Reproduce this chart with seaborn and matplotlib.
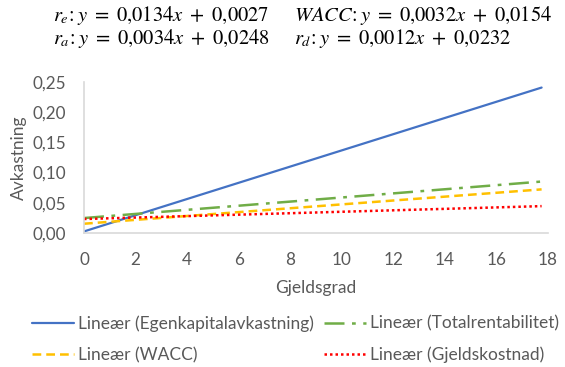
import matplotlib
matplotlib.use("Agg")
import matplotlib.pyplot as plt
from matplotlib.ticker import FuncFormatter, MultipleLocator
import seaborn as sns
import pandas as pd

# Linear trend lines: y = slope * x + intercept over the debt ratio range
series = ["Lineær (Egenkapitalavkastning)", "Lineær (Totalrentabilitet)",
          "Lineær (WACC)", "Lineær (Gjeldskostnad)"]
slopes = [0.0134, 0.0034, 0.0032, 0.0012]
intercepts = [0.0027, 0.0248, 0.0154, 0.0232]
x_span = [0.0, 17.75]

colors = ["#4472C4", "#70AD47", "#FFC000", "#FF0000"]
styles = ["-", (0, (8, 3, 1.5, 3)), (0, (3.5, 2)), (0, (1, 1.2))]
widths = [1.6, 1.8, 1.8, 1.8]

equations = [r"$r_e\!:y\ =\ 0{,}0134x\ +\ 0{,}0027$",
             r"$WACC\!:y\ =\ 0{,}0032x\ +\ 0{,}0154$",
             r"$r_a\!:y\ =\ 0{,}0034x\ +\ 0{,}0248$",
             r"$r_d\!:y\ =\ 0{,}0012x\ +\ 0{,}0232$"]

rows = []
for name, a, b in zip(series, slopes, intercepts):
    for x in x_span:
        rows.append({"Gjeldsgrad": x, "Avkastning": a * x + b, "serie": name})
df = pd.DataFrame(rows)

sns.set_theme(style="white")
plt.rcParams["font.family"] = ["Lato", "DejaVu Sans"]
plt.rcParams["mathtext.fontset"] = "stix"

fig = plt.figure(figsize=(5.65, 3.67), dpi=100)
ax = fig.add_axes([0.1487, 0.365, 0.8213, 0.412])

for name, c, ls, lw in zip(series, colors, styles, widths):
    sub = df[df["serie"] == name]
    sns.lineplot(data=sub, x="Gjeldsgrad", y="Avkastning", ax=ax, color=c,
                 linestyle=ls, linewidth=lw, label=name)

grey = "#595959"
ax.set_xlim(0, 18)
ax.set_ylim(0, 0.25)
ax.xaxis.set_major_locator(MultipleLocator(2))
ax.yaxis.set_major_locator(MultipleLocator(0.05))
ax.yaxis.set_major_formatter(FuncFormatter(lambda v, p: f"{v:.2f}".replace(".", ",")))
ax.xaxis.set_major_formatter(FuncFormatter(lambda v, p: f"{v:.0f}"))
ax.tick_params(axis="both", length=0, labelsize=12.3, colors=grey)
ax.tick_params(axis="y", pad=13)
ax.tick_params(axis="x", pad=13.5)
ax.set_xlabel("Gjeldsgrad", fontsize=12.5, color=grey, labelpad=9)
ax.set_ylabel("Avkastning", fontsize=12.5, color=grey, labelpad=4)
for s in ["top", "right"]:
    ax.spines[s].set_visible(False)
for s in ["left", "bottom"]:
    ax.spines[s].set_color("#D9D9D9")
    ax.spines[s].set_linewidth(1.2)

handles, labels = ax.get_legend_handles_labels()
ax.legend_.remove()
order = [0, 2, 1, 3]
fig.legend([handles[i] for i in order], [labels[i] for i in order],
           ncol=2, loc="upper left", bbox_to_anchor=(0.045, 0.16),
           frameon=False, fontsize=12.5, labelcolor=grey, handlelength=2.4,
           handletextpad=0.2, columnspacing=0.64, labelspacing=0.87, borderaxespad=0)

# Regression equations above the plot area
eq_pos = [(0.094, 0.958), (0.52, 0.958), (0.094, 0.895), (0.52, 0.895)]
for (x, y), t in zip(eq_pos, equations):
    fig.text(x, y, t, fontsize=14.8, color="black", va="center", ha="left")

fig.savefig("out.png", dpi=100)
